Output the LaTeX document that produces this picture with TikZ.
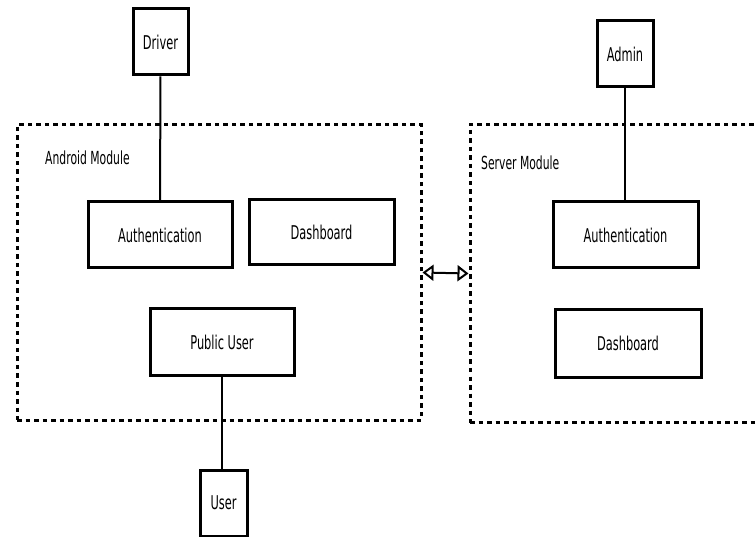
\documentclass[tikz,border=0pt]{standalone}
\usepackage{fontspec}
\setmainfont{DejaVu Sans}
\usepackage{graphicx}
\usetikzlibrary{arrows.meta}
\newcommand{\narrowtext}[1]{\scalebox{0.6}[1]{#1}}
\tikzset{
	block/.style={draw, line width=3pt, minimum width=#1, minimum height=66pt, inner sep=0pt},
	module/.style={draw, line width=3pt, dash pattern=on 4.5pt off 4pt, inner sep=0pt},
	link/.style={line width=2pt},
	modlabel/.style={anchor=west, inner sep=0pt, font=\fontsize{18}{21}\selectfont}
}

\begin{document}
\begin{tikzpicture}[x=1pt, y=-1pt, font=\fontsize{19}{22}\selectfont]
			%%%%% START %%%%%
			
			\path[use as bounding box, clip] (0, 0) rectangle (755, 537);
			\fill[white] (0, 0) rectangle (755, 537);
			
			% module frames
			\node[module, minimum width=404pt, minimum height=295pt] (android) at (219, 272.5) {};
			\node[module, minimum width=320pt, minimum height=298pt] (server) at (630, 273.5) {};
			\node[modlabel] (androidlbl) at (45, 158) {\narrowtext{Android Module}};
			\node[modlabel] (serverlbl) at (481, 163) {\narrowtext{Server Module}};
			
			% android side
			\node[block=55pt] (driver) at (160.5, 42) {\narrowtext{Driver}};
			\node[block=144pt] (authA) at (160, 235) {\narrowtext{Authentication}};
			\node[block=145pt, minimum height=65pt] (dashA) at (321.5, 232.5) {\narrowtext{Dashboard}};
			\node[block=144pt] (public) at (222, 342) {\narrowtext{Public User}};
			\node[block=47pt] (user) at (223.5, 503) {\narrowtext{User}};
			
			% server side
			\node[block=56pt] (admin) at (625, 54) {\narrowtext{Admin}};
			\node[block=145pt] (authS) at (625.5, 235) {\narrowtext{Authentication}};
			\node[block=146pt, minimum height=67pt] (dashS) at (628, 343.5) {\narrowtext{Dashboard}};
			
			% connectors
			\draw[link] (driver) -- (authA);
			\draw[link] (public.south) -- (user.north -| public.south);
			\draw[link] (admin) -- (admin |- authS.north);
			\draw[link, {Triangle[open, length=11pt, width=16pt]}-{Triangle[open, length=11pt, width=16pt]}] (android.east) -- (server.west);
			
			%%%%% END %%%%%
\end{tikzpicture}
\end{document}
